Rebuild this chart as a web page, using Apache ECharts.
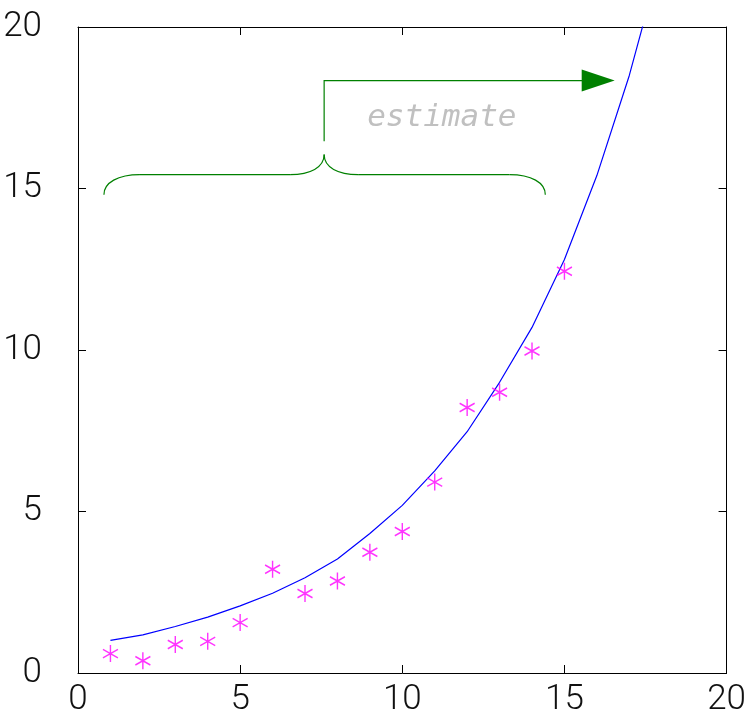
<!DOCTYPE html>
<html><head><meta charset="utf-8">
<script src="https://cdn.jsdelivr.net/npm/echarts@6/dist/echarts.min.js"></script>
<style>html,body{margin:0;padding:0;background:#fff}#c{width:749px;height:718px}</style>
</head><body><div id="c"></div>
<script>
// observed data points (asterisks)
const obsX = [1,2,3,4,5,6,7,8,9,10,11,12,13,14,15];
const obsY = [0.60,0.38,0.88,0.98,1.56,3.21,2.46,2.85,3.74,4.38,5.91,8.22,8.69,9.97,12.44];
// fitted curve vertices
const fitX = [1,2,3,4,5,6,7,8,9,10,11,12,13,14,15,16,17,18];
const fitY = [1.01,1.18,1.44,1.73,2.08,2.47,2.95,3.53,4.32,5.19,6.26,7.47,9.0,10.7,12.8,15.4,18.5,22.2];
const axisTicks = [0,5,10,15,20];
// annotation geometry in data units
const braceLeft = 0.80, braceRight = 14.41, braceEndY = 14.81, braceBarY = 15.43, braceTip = [7.59, 16.05];
const arrowStart = [7.59, 16.46], arrowCorner = [7.59, 18.34], arrowEnd = [16.55, 18.34];
const noteText = 'estimate', notePos = [11.22, 17.19];

const chart = echarts.init(document.getElementById('c'), null, {renderer:'canvas'});
const font = 'Roboto';
const baseAxis = (pos, showLabel) => ({
  type:'value', min:0, max:20, interval:5, position:pos,
  axisLine:{show:true, onZero:false, lineStyle:{color:'#000', width:1}},
  axisTick:{show:true, inside:true, length:8, lineStyle:{color:'#000', width:1}},
  splitLine:{show:false},
  axisLabel:{show:showLabel, color:'#111', fontSize:35, fontFamily:font, fontWeight:300, margin: pos==='left'?36:10,
    formatter: v => axisTicks.includes(v) ? String(v) : ''}
});
const option = {
  animation:false,
  grid:{left:78, right:22, top:27, bottom:44, containLabel:false},
  xAxis:[baseAxis('bottom', true), baseAxis('top', false)],
  yAxis:[baseAxis('left', true), baseAxis('right', false)],
  series:[
    {type:'line', data: fitX.map((x,i)=>[x, fitY[i]]), showSymbol:false, symbol:'none', clip:true,
     lineStyle:{color:'#0000ff', width:1.2}, z:2},
    {type:'scatter', data: obsX.map((x,i)=>[x, obsY[i]]),
     symbol:'path://M0,-1L0,1M-0.866,-0.5L0.866,0.5M-0.866,0.5L0.866,-0.5', symbolSize:[15,17],
     itemStyle:{color:'none', borderColor:'#ff00ff', borderWidth:1.5}, z:3}
  ]
};
chart.setOption(option);
const P = (p) => chart.convertToPixel({gridIndex:0}, p);
const L = P([braceLeft, braceEndY]), R = P([braceRight, braceEndY]);
const T = P(braceTip);
const barY = P([0, braceBarY])[1];
const r = 36;
const g = '#008000';
const st = {fill:'none', stroke:g, lineWidth:1.2};
const bz = (x1,y1,c1x,c1y,c2x,c2y,x2,y2) => ({type:'bezierCurve', shape:{x1:x1,y1:y1,cpx1:c1x,cpy1:c1y,cpx2:c2x,cpy2:c2y,x2:x2,y2:y2}, style:st, z:10});
const ln = (x1,y1,x2,y2) => ({type:'line', shape:{x1:x1,y1:y1,x2:x2,y2:y2}, style:st, z:10});
const A0 = P(arrowStart), A1 = P(arrowCorner), A2 = P(arrowEnd);
const headLen = 33, headHalf = 11;
const N = P(notePos);
chart.setOption({graphic:[
  bz(L[0], L[1], L[0], L[1]-12, L[0]+14, barY, L[0]+r, barY),
  ln(L[0]+r, barY, T[0]-34, barY),
  bz(T[0]-34, barY, T[0]-14, barY, T[0], barY-7, T[0], T[1]),
  bz(T[0], T[1], T[0], barY-7, T[0]+14, barY, T[0]+34, barY),
  ln(T[0]+34, barY, R[0]-r, barY),
  bz(R[0]-r, barY, R[0]-14, barY, R[0], R[1]-12, R[0], R[1]),
  {type:'polyline', shape:{points:[A0, A1, [A2[0]-headLen+2, A2[1]]]}, style:st, z:10},
  {type:'polygon', shape:{points:[[A2[0], A2[1]], [A2[0]-headLen, A2[1]-headHalf], [A2[0]-headLen, A2[1]+headHalf]]}, style:{fill:g}, z:10},
  {type:'text', x:N[0], y:N[1], style:{text:noteText, fill:'#c0c0c0', fontSize:31, fontStyle:'italic', fontFamily:'DejaVu Sans Mono', align:'center', verticalAlign:'middle'}, z:10}
]});
</script></body></html>
